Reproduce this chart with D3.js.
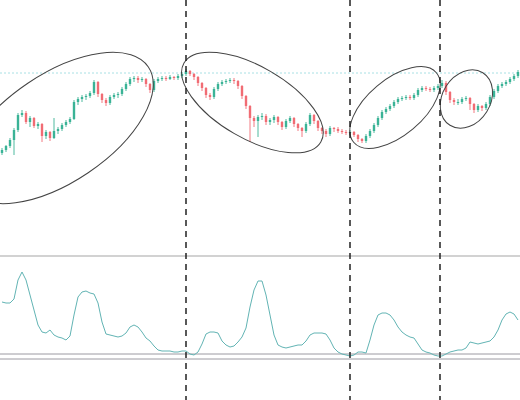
<!DOCTYPE html>
<html>
<head>
<meta charset="utf-8">
<script src="https://cdn.jsdelivr.net/npm/d3@7"></script>
<style>
  html, body { margin: 0; padding: 0; background: #fff; }
  svg { display: block; }
</style>
</head>
<body>
<svg id="chart" width="520" height="400"></svg>
<script>
// ---------------- DATA ----------------
const candleOpen = [102,105,109,115,125,140,142,133,137,129,
131,119,123,117,124,126,130,133,136,153,
156,158,159,162,173,161,155,152,158,160,
161,166,171,176,177,175,176,171,165,174,
176,177,176,178,177,179,181,184,181,178,
172,167,160,158,166,171,173,174,175,174,
169,159,149,137,134,138,139,133,135,138,
133,128,134,137,131,127,124,131,140,134,
127,124,121,127,126,124,123,122,123,120,
116,114,119,124,130,137,143,146,149,153,
156,157,158,157,160,165,167,166,165,167,
169,172,163,155,153,153,156,157,151,145,
149,147,151,158,164,169,171,173,176,179];
const candleHigh = [107,110,117,127,142,145,144,139,138,133,
132,125,124,137,128,132,135,138,155,158,
160,161,164,175,174,162,157,160,162,163,
168,173,178,179,179,178,177,172,176,178,
179,179,180,179,181,183,186,185,182,179,
173,168,162,168,173,175,176,177,177,175,
170,160,150,139,140,142,141,137,140,139,
134,136,139,138,132,128,133,142,141,135,
128,126,129,128,128,126,125,125,124,121,
117,121,126,132,139,145,148,151,155,158,
159,160,160,162,167,169,169,168,169,171,
175,174,164,157,156,158,159,158,152,151,
150,153,160,166,171,173,175,178,181,185];
const candleLow = [100,103,107,100,123,138,131,128,127,126,
113,116,114,116,121,124,128,131,135,150,
153,155,157,160,158,152,149,150,156,157,
159,164,169,173,172,173,168,162,163,172,
174,174,175,175,175,177,179,179,175,169,
164,157,155,156,164,169,171,172,171,166,
156,146,113,128,118,135,130,130,132,130,
125,126,132,128,124,118,122,129,131,124,
121,118,119,123,122,121,120,120,118,113,
112,112,117,122,128,135,141,144,147,151,
154,155,155,155,158,163,164,163,163,165,
167,160,152,150,150,151,154,145,142,143,
144,145,149,156,162,167,169,171,174,177];
const candleClose = [105,109,115,125,140,142,133,137,129,131,
119,123,117,124,126,130,133,136,153,156,
158,159,162,173,161,155,152,158,160,161,
166,171,176,177,175,176,171,165,174,176,
177,176,178,177,179,181,184,181,178,172,
167,160,158,166,171,173,174,175,174,169,
159,149,137,134,138,139,133,135,138,133,
128,134,137,131,127,124,131,140,134,127,
124,121,127,126,124,123,122,123,120,116,
114,119,124,130,137,143,146,149,153,156,
157,158,157,160,165,167,166,165,167,169,
172,163,155,153,153,156,157,151,145,149,
147,151,158,164,169,171,173,176,179,183];
const indicatorValues = [78,77,77,81,100,108,100,85,70,55,
48,47,50,45,43,42,40,44,65,83,
88,89,87,86,77,58,46,45,44,43,
44,47,53,55,53,48,42,39,34,30,
29,29,29,28,28,29,29,26,25,28,
36,46,48,48,47,39,35,33,34,38,
43,52,73,90,99,99,85,65,45,35,
33,32,33,34,35,35,39,45,47,47,
47,46,40,32,28,26,25,24,25,28,
28,27,40,55,65,67,67,65,60,53,
48,45,43,42,36,30,28,27,25,24,
24,26,28,29,30,30,32,38,37,36,
37,38,39,43,50,60,66,68,66,60];
const indicatorLevels = [26, 21];
const priceLevel = [182];
const markerIndex = [46, 87, 109.5];
// ellipse annotation anchors (candle index, price)
const ellipseIndex = [14, 62.6, 98.25, 116.1];
const ellipsePrice = [127, 152.5, 147.5, 156];

// ---------------- STYLE / LAYOUT ----------------
const W = 520, H = 400;
const ellipseShape = [
  {rx: 109, ry: 54, rot: -34},
  {rx: 79, ry: 36, rot: 30},
  {rx: 54, ry: 28, rot: -40},
  {rx: 31, ry: 24, rot: -58}
];
const upColor = "#2fae8f", downColor = "#f0636c";

const svg = d3.select("#chart");
svg.append("rect").attr("width", W).attr("height", H).attr("fill", "#fff");

const n = candleClose.length;
const x = d3.scaleLinear().domain([-0.5, n - 0.5]).range([0, W]);
const yPrice = d3.scaleLinear().domain([0, 255]).range([255, 0]);
const yInd = d3.scaleLinear().domain([0, 120]).range([380, 260]);
const bodyW = 2.4;

// price reference dotted line
svg.selectAll(".plevel").data(priceLevel).enter().append("line")
  .attr("x1", 0).attr("x2", W)
  .attr("y1", d => yPrice(d)).attr("y2", d => yPrice(d))
  .attr("stroke", "#a8e0e4").attr("stroke-width", 1).attr("stroke-dasharray", "2,2");

// panel separator
svg.append("line").attr("x1", 0).attr("x2", W).attr("y1", 256).attr("y2", 256)
  .attr("stroke", "#d2d2d2").attr("stroke-width", 2);

// candles
const idx = d3.range(n);
const g = svg.append("g");
g.selectAll(".wick").data(idx).enter().append("line")
  .attr("x1", i => x(i)).attr("x2", i => x(i))
  .attr("y1", i => yPrice(candleHigh[i])).attr("y2", i => yPrice(candleLow[i]))
  .attr("stroke", i => candleClose[i] >= candleOpen[i] ? upColor : downColor)
  .attr("stroke-width", 1).attr("opacity", 0.85);
g.selectAll(".body").data(idx).enter().append("rect")
  .attr("x", i => x(i) - bodyW / 2).attr("width", bodyW)
  .attr("y", i => yPrice(Math.max(candleOpen[i], candleClose[i])))
  .attr("height", i => Math.max(1, Math.abs(yPrice(candleOpen[i]) - yPrice(candleClose[i]))))
  .attr("fill", i => candleClose[i] >= candleOpen[i] ? upColor : downColor)
  .attr("opacity", 0.9);

// indicator levels
svg.selectAll(".ilevel").data(indicatorLevels).enter().append("line")
  .attr("x1", 0).attr("x2", W)
  .attr("y1", d => yInd(d)).attr("y2", d => yInd(d))
  .attr("stroke", "#9c9aa2").attr("stroke-width", 1);

// indicator line
svg.append("path").datum(indicatorValues)
  .attr("fill", "none").attr("stroke", "#62b4b4").attr("stroke-width", 1)
  .attr("d", d3.line().x((d, i) => x(i)).y(d => yInd(d)));

// ellipses
svg.selectAll(".ell").data(ellipseIndex).enter().append("ellipse")
  .attr("transform", (d, i) => `translate(${x(d)},${yPrice(ellipsePrice[i])}) rotate(${ellipseShape[i].rot})`)
  .attr("rx", (d, i) => ellipseShape[i].rx).attr("ry", (d, i) => ellipseShape[i].ry)
  .attr("fill", "none").attr("stroke", "#444").attr("stroke-width", 1);

// vertical dashed markers
svg.selectAll(".marker").data(markerIndex).enter().append("line")
  .attr("x1", d => x(d)).attr("x2", d => x(d))
  .attr("y1", 0).attr("y2", H)
  .attr("stroke", "#222").attr("stroke-width", 1.5).attr("stroke-dasharray", "6,5");
</script>
</body>
</html>
